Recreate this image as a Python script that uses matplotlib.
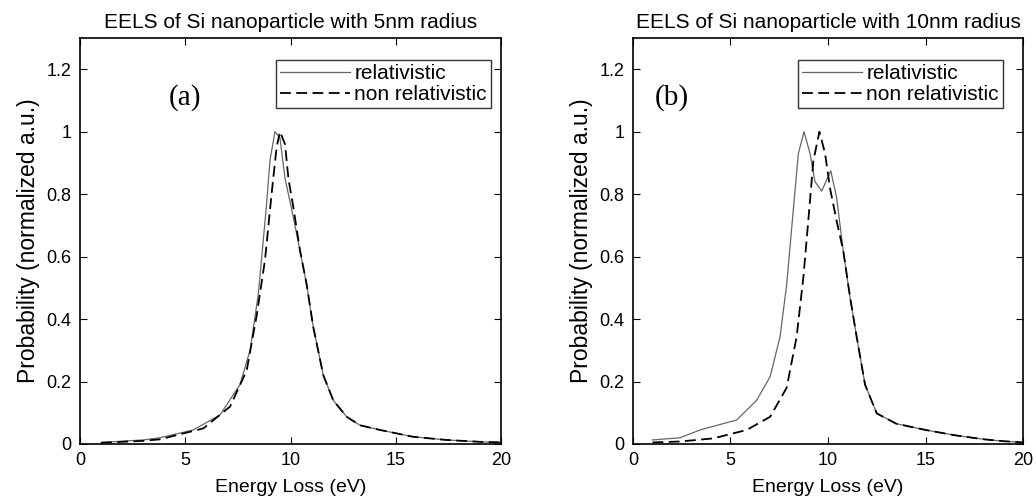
import matplotlib.pyplot as plt

# (a) Si nanoparticle, 5nm radius
energieA_rel = [1, 2, 3, 3.8, 5.38, 6.65, 7.6, 8.08, 8.47, 8.84, 9.03, 9.26, 9.5, 9.74, 10.06, 10.45, 10.77, 11.08, 11.56, 12.03, 12.67, 13.3, 14.25, 15.83, 17.4, 19, 20]
probaA_rel = [0.005, 0.009, 0.013, 0.02, 0.045, 0.093, 0.19, 0.30, 0.48, 0.75, 0.91, 1.0, 0.98, 0.85, 0.75, 0.62, 0.51, 0.375, 0.22, 0.14, 0.087, 0.06, 0.045, 0.023, 0.013, 0.007, 0.005]

energieA_nonrel = [1, 2, 3, 3.8, 5.86, 7.13, 7.92, 8.39, 8.79, 9.1, 9.34, 9.5, 9.74, 9.9, 10.13, 10.45, 10.77, 11.08, 11.56, 12.03, 12.67, 13.3, 14.25, 15.83, 17.4, 19, 20]
probaA_nonrel = [0.004, 0.007, 0.01, 0.015, 0.05, 0.12, 0.236, 0.41, 0.59, 0.80, 0.95, 1.0, 0.96, 0.85, 0.76, 0.62, 0.51, 0.375, 0.22, 0.14, 0.087, 0.06, 0.045, 0.023, 0.013, 0.007, 0.005]

# (b) Si nanoparticle, 10nm radius
energieB_rel = [1, 2.41, 3.44, 5.32, 6.34, 7.03, 7.54, 7.88, 8.22, 8.48, 8.77, 9.08, 9.33, 9.68, 10.14, 10.44, 10.78, 11.13, 11.47, 11.9, 12.5, 13.5, 15, 16.5, 18, 19, 20]
probaB_rel = [0.013, 0.02, 0.045, 0.077, 0.14, 0.215, 0.343, 0.51, 0.75, 0.93, 1.0, 0.93, 0.84, 0.81, 0.875, 0.79, 0.62, 0.47, 0.343, 0.19, 0.098, 0.065, 0.045, 0.028, 0.015, 0.009, 0.005]

energieB_nonrel = [1, 2.41, 4.12, 5.83, 7.03, 7.88, 8.39, 8.73, 8.99, 9.25, 9.56, 9.85, 10.1, 10.44, 10.78, 11.13, 11.47, 11.9, 12.5, 13.5, 15, 16.5, 18, 19, 20]
probaB_nonrel = [0.005, 0.008, 0.018, 0.045, 0.087, 0.18, 0.343, 0.53, 0.715, 0.907, 1.0, 0.93, 0.82, 0.715, 0.62, 0.47, 0.343, 0.19, 0.098, 0.065, 0.045, 0.028, 0.015, 0.009, 0.005]

titres = ["EELS of Si nanoparticle with 5nm radius", "EELS of Si nanoparticle with 10nm radius"]
lettres = ["(a)", "(b)"]
ticksY = [0, 0.2, 0.4, 0.6, 0.8, 1, 1.2]
labelsY = ["0", "0.2", "0.4", "0.6", "0.8", "1", "1.2"]
ticksX = [0, 5, 10, 15, 20]

plt.rcParams["font.family"] = "Liberation Sans"

fig = plt.figure(figsize=(10.36, 5.0), dpi=100)
ax1 = fig.add_axes([80/1036, 1-444/500, 421/1036, 406/500])
ax2 = fig.add_axes([633/1036, 1-444/500, 390/1036, 406/500])

donnees = [(energieA_rel, probaA_rel, energieA_nonrel, probaA_nonrel),
           (energieB_rel, probaB_rel, energieB_nonrel, probaB_nonrel)]
posLettre = [5.0, 2.0]
ancreLegende = [(0.976, 0.946), (0.949, 0.946)]
longueurTrait = [3.35, 2.9]

for i, ax in enumerate([ax1, ax2]):
    eR, pR, eN, pN = donnees[i]
    ax.plot(eR, pR, color="#666666", linewidth=0.9, label="relativistic")
    ax.plot(eN, pN, color="black", linewidth=1.3, linestyle=(0, (6, 3)), label="non relativistic")
    ax.set_xlim(0, 20)
    ax.set_ylim(0, 1.3)
    ax.set_xticks(ticksX)
    ax.set_yticks(ticksY)
    ax.set_yticklabels(labelsY)
    ax.tick_params(direction="in", top=True, right=True, labelsize=13, length=5, pad=6)
    for s in ax.spines.values():
        s.set_linewidth(1.2)
    ax.set_title(titres[i], fontsize=15, pad=7)
    ax.set_xlabel("Energy Loss (eV)", fontsize=14, labelpad=7)
    ax.set_ylabel("Probability (normalized a.u.)", fontsize=16.5, labelpad=5)
    ax.text(posLettre[i], 1.11, lettres[i], fontsize=21, family="Liberation Serif", ha="center", va="center")
    leg = ax.legend(loc="upper right", bbox_to_anchor=ancreLegende[i], fontsize=15,
                    frameon=True, fancybox=False, borderaxespad=0.0, handlelength=longueurTrait[i],
                    handletextpad=0.2, borderpad=0.2, labelspacing=0.1)
    leg.get_frame().set_edgecolor("black")
    leg.get_frame().set_linewidth(1.0)

plt.savefig("out.png", dpi=100)
